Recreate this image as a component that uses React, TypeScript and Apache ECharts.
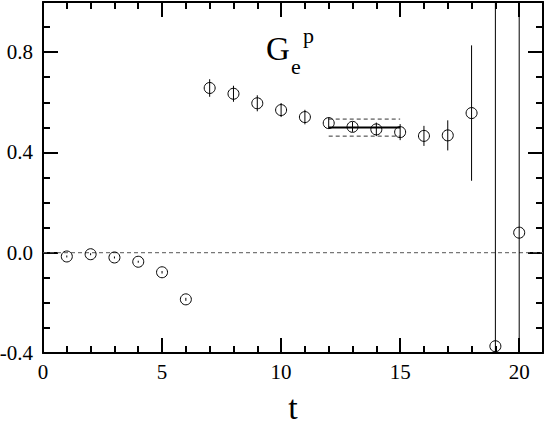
import React, { useEffect, useRef } from "react";
import * as echarts from "echarts";

const tValues = [1, 2, 3, 4, 5, 6, 7, 8, 9, 10, 11, 12, 13, 14, 15, 16, 17, 18, 19, 20];
const gValues = [-0.015, -0.006, -0.019, -0.036, -0.078, -0.186, 0.657, 0.634, 0.596, 0.569, 0.541, 0.517, 0.502, 0.492, 0.481, 0.466, 0.468, 0.557, -0.373, 0.08];
const gErrors = [0.004, 0.004, 0.004, 0.004, 0.005, 0.006, 0.035, 0.032, 0.032, 0.028, 0.029, 0.023, 0.02, 0.027, 0.032, 0.04, 0.06, 0.27, 1.6, 1.1];
const fitRange = [12, 15];
const fitValue = 0.499;
const fitError = 0.034;

const FONT = "'Liberation Serif', 'DejaVu Serif', serif";

export default function App() {
  const ref = useRef<HTMLDivElement>(null);
  useEffect(() => {
    if (!ref.current) return;
    const chart = echarts.init(ref.current, undefined, { renderer: "svg" });
    const points = tValues.map((t, i) => [t, gValues[i], gErrors[i]]);
    const axisCommon = {
      type: "value" as const,
      axisLine: { show: true, onZero: false, lineStyle: { color: "#000", width: 2 } },
      axisTick: { show: true, inside: true, length: 15, lineStyle: { color: "#000", width: 2 } },
      minorTick: { show: true, length: 7, lineStyle: { color: "#000", width: 2 } },
      splitLine: { show: false },
      minorSplitLine: { show: false },
    };
    chart.setOption({
      animation: false,
      grid: { left: 43, right: 2, top: 2, bottom: 72, outerBoundsMode: "none", containLabel: false },
      xAxis: [
        {
          ...axisCommon,
          position: "bottom",
          min: 0,
          max: 21,
          interval: 5,
          minorTick: { ...axisCommon.minorTick, splitNumber: 5 },
          axisLabel: { color: "#000", fontFamily: FONT, fontSize: 21, margin: 8, showMaxLabel: false },
          name: "t",
          nameLocation: "middle",
          nameGap: 37,
          nameTextStyle: { color: "#000", fontFamily: FONT, fontSize: 34 },
        },
        {
          ...axisCommon,
          position: "top",
          min: 0,
          max: 21,
          interval: 5,
          minorTick: { ...axisCommon.minorTick, splitNumber: 5 },
          axisLabel: { show: false },
        },
      ],
      yAxis: [
        {
          ...axisCommon,
          position: "left",
          min: -0.4,
          max: 1.0,
          interval: 0.4,
          minorTick: { ...axisCommon.minorTick, splitNumber: 4 },
          axisLabel: {
            color: "#000",
            fontFamily: FONT,
            fontSize: 21,
            margin: 10,
            showMaxLabel: false,
            formatter: (v: number) => v.toFixed(1),
          },
        },
        {
          ...axisCommon,
          position: "right",
          min: -0.4,
          max: 1.0,
          interval: 0.4,
          minorTick: { ...axisCommon.minorTick, splitNumber: 4 },
          axisLabel: { show: false },
        },
      ],
      graphic: [
        { type: "text", x: 266, y: 49, style: { text: "G", font: `33px ${FONT}`, fill: "#000", textVerticalAlign: "middle" } },
        { type: "text", x: 291, y: 66, style: { text: "e", font: `22px ${FONT}`, fill: "#000", textVerticalAlign: "middle" } },
        { type: "text", x: 303, y: 35, style: { text: "p", font: `22px ${FONT}`, fill: "#000", textVerticalAlign: "middle" } },
      ],
      series: [
        {
          type: "line",
          data: [[0, 0], [21, 0]],
          symbol: "none",
          lineStyle: { color: "#555", width: 1, type: [4, 3] },
          silent: true,
          z: 1,
        },
        {
          type: "line",
          data: [[fitRange[0], fitValue], [fitRange[1], fitValue]],
          symbol: "none",
          lineStyle: { color: "#000", width: 2 },
          z: 2,
        },
        {
          type: "line",
          data: [[fitRange[0], fitValue + fitError], [fitRange[1], fitValue + fitError]],
          symbol: "none",
          lineStyle: { color: "#333", width: 1, type: [4, 3] },
          z: 2,
        },
        {
          type: "line",
          data: [[fitRange[0], fitValue - fitError], [fitRange[1], fitValue - fitError]],
          symbol: "none",
          lineStyle: { color: "#333", width: 1, type: [4, 3] },
          z: 2,
        },
        {
          type: "custom",
          data: points,
          encode: { x: 0, y: 1 },
          z: 3,
          renderItem: (params: any, api: any) => {
            const x = api.value(0);
            const y = api.value(1);
            const e = api.value(2);
            const top = api.coord([x, y + e]);
            const bot = api.coord([x, y - e]);
            const cs = params.coordSys;
            const y1 = Math.max(top[1], cs.y);
            const y2 = Math.min(bot[1], cs.y + cs.height);
            return {
              type: "line",
              shape: { x1: top[0], y1, x2: top[0], y2 },
              style: { stroke: "#000", lineWidth: 1 },
            };
          },
        },
        {
          type: "scatter",
          data: points.map((p) => [p[0], p[1]]),
          symbol: "circle",
          symbolSize: 11,
          itemStyle: { color: "rgba(0,0,0,0)", borderColor: "#000", borderWidth: 1, opacity: 1 },
          z: 4,
        },
      ],
    });
    return () => chart.dispose();
  }, []);
  return <div ref={ref} style={{ width: 545, height: 425, position: "absolute", left: 0, top: 0 }} />;
}
